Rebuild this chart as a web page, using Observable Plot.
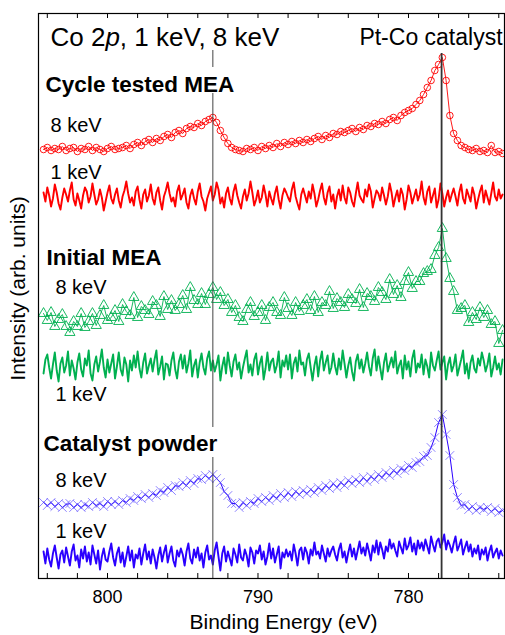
<!DOCTYPE html>
<html><head><meta charset="utf-8">
<script src="https://cdn.jsdelivr.net/npm/d3@7"></script>
<script src="https://cdn.jsdelivr.net/npm/@observablehq/plot@0.6"></script>
<style>body{margin:0;background:#fff}</style>
</head><body><div id="chart"></div>
<script>
// Binding energy grid of the 8 keV spectra (eV)
const energy = [
804.25,804,803.75,803.5,803.25,803,802.75,802.5,802.25,802,
801.75,801.5,801.25,801,800.75,800.5,800.25,800,799.75,799.5,
799.25,799,798.75,798.5,798.25,798,797.75,797.5,797.25,797,
796.75,796.5,796.25,796,795.75,795.5,795.25,795,794.75,794.5,
794.25,794,793.75,793.5,793.25,793,792.75,792.5,792.25,792,
791.75,791.5,791.25,791,790.75,790.5,790.25,790,789.75,789.5,
789.25,789,788.75,788.5,788.25,788,787.75,787.5,787.25,787,
786.75,786.5,786.25,786,785.75,785.5,785.25,785,784.75,784.5,
784.25,784,783.75,783.5,783.25,783,782.75,782.5,782.25,782,
781.75,781.5,781.25,781,780.75,780.5,780.25,780,779.75,779.5,
779.25,779,778.75,778.5,778.25,778,777.75,777.5,777.25,777,
776.75,776.5,776.25,776,775.75,775.5,775.25,775,774.75,774.5,
774.25,774,773.75];

// Binding energy grid of the 1 keV spectra (eV)
const energy1 = [
804.25,804.125,
804,803.875,803.75,803.625,803.5,803.375,803.25,803.125,
803,802.875,802.75,802.625,802.5,802.375,802.25,802.125,
802,801.875,801.75,801.625,801.5,801.375,801.25,801.125,
801,800.875,800.75,800.625,800.5,800.375,800.25,800.125,
800,799.875,799.75,799.625,799.5,799.375,799.25,799.125,
799,798.875,798.75,798.625,798.5,798.375,798.25,798.125,
798,797.875,797.75,797.625,797.5,797.375,797.25,797.125,
797,796.875,796.75,796.625,796.5,796.375,796.25,796.125,
796,795.875,795.75,795.625,795.5,795.375,795.25,795.125,
795,794.875,794.75,794.625,794.5,794.375,794.25,794.125,
794,793.875,793.75,793.625,793.5,793.375,793.25,793.125,
793,792.875,792.75,792.625,792.5,792.375,792.25,792.125,
792,791.875,791.75,791.625,791.5,791.375,791.25,791.125,
791,790.875,790.75,790.625,790.5,790.375,790.25,790.125,
790,789.875,789.75,789.625,789.5,789.375,789.25,789.125,
789,788.875,788.75,788.625,788.5,788.375,788.25,788.125,
788,787.875,787.75,787.625,787.5,787.375,787.25,787.125,
787,786.875,786.75,786.625,786.5,786.375,786.25,786.125,
786,785.875,785.75,785.625,785.5,785.375,785.25,785.125,
785,784.875,784.75,784.625,784.5,784.375,784.25,784.125,
784,783.875,783.75,783.625,783.5,783.375,783.25,783.125,
783,782.875,782.75,782.625,782.5,782.375,782.25,782.125,
782,781.875,781.75,781.625,781.5,781.375,781.25,781.125,
781,780.875,780.75,780.625,780.5,780.375,780.25,780.125,
780,779.875,779.75,779.625,779.5,779.375,779.25,779.125,
779,778.875,778.75,778.625,778.5,778.375,778.25,778.125,
778,777.875,777.75,777.625,777.5,777.375,777.25,777.125,
777,776.875,776.75,776.625,776.5,776.375,776.25,776.125,
776,775.875,775.75,775.625,775.5,775.375,775.25,775.125,
775,774.875,774.75,774.625,774.5,774.375,774.25,774.125,
774,773.875,773.75];

// Cycle tested MEA (offset intensities, arb. units)
const cycle8 = [
429,431,428,430,429,432,428,430,431,427,
430,429,432,428,431,429,427,430,432,429,
430,431,433,430,434,436,433,437,439,436,
440,438,442,444,441,446,448,445,450,452,
451,455,453,457,459,461,456,448,441,435,
431,429,428,427,430,429,431,428,432,430,
433,431,435,432,436,434,437,435,438,436,
439,437,440,442,439,443,441,445,444,447,
446,448,450,447,451,449,453,452,455,454,
457,455,459,461,458,463,466,468,470,474,
478,484,491,498,508,514,521,498,463,445,
438,433,431,429,428,430,427,428,426,433,
426,427,425];
const cycle1 = [
386,377,
391,383,372,380,394,386,375,369,
381,390,384,377,388,396,379,373,
385,378,370,383,391,387,376,382,
395,384,374,379,389,381,368,377,
386,393,380,375,384,390,378,371,
382,388,397,385,376,381,373,387,
392,379,370,384,389,377,383,394,
380,374,386,391,378,369,382,388,
396,385,377,381,372,387,393,379,
384,390,376,370,383,389,380,374,
387,395,382,377,368,380,386,392,
378,384,396,389,375,381,371,385,
391,380,374,387,394,383,376,370,
382,389,378,385,397,386,373,379,
388,376,381,393,384,372,387,380,
374,385,392,379,370,383,390,386,
381,377,389,396,382,375,369,384,
390,383,376,387,380,394,385,372,
379,388,395,381,374,386,392,377,
384,370,382,389,378,393,381,375,
391,386,377,372,385,396,383,379,
376,389,382,394,387,371,380,388,
385,378,391,383,374,382,395,386,
372,381,388,377,390,384,369,379,
393,386,375,382,389,378,384,397,
381,374,387,392,376,383,390,371,
379,395,385,372,381,388,377,384,
390,382,373,386,394,380,375,389,
383,377,391,384,370,379,387,393,
376,388,381,374,385,396,382,378,
389,380,384];

// Initial MEA
const initial8 = [
265,258,266,252,259,264,252,246,257,252,
265,251,257,265,253,263,273,258,261,268,
257,274,267,263,281,261,272,268,264,277,
273,262,282,269,278,268,274,283,269,291,
278,274,285,274,284,291,279,286,273,279,
266,273,261,257,269,276,262,266,273,258,
271,276,266,263,281,270,263,276,267,273,
279,268,282,266,276,273,287,270,280,276,
271,284,279,275,289,271,285,282,277,291,
286,279,299,284,293,281,297,306,290,297,
297,305,307,309,323,331,350,320,300,287,
268,270,273,256,266,259,271,261,268,254,
257,235,248];
const initial1 = [
205,219,
224,211,200,214,226,208,197,215,
221,206,213,227,203,218,210,199,
216,225,209,202,220,213,228,205,
198,214,222,207,217,229,211,201,
219,206,215,224,200,212,226,209,
203,221,214,197,218,208,223,211,
227,210,201,216,225,205,213,220,
207,219,228,204,212,222,199,215,
214,203,218,226,209,200,217,224,
210,223,206,215,228,202,213,219,
201,216,225,211,204,220,227,208,
218,207,214,223,198,212,221,205,
226,213,202,217,224,209,216,200,
211,220,228,206,214,203,219,225,
204,215,222,199,210,226,208,217,
220,206,213,227,201,218,212,223,
209,224,200,215,221,207,228,214,
216,203,219,225,211,198,213,222,
202,218,227,208,216,223,205,211,
225,212,204,220,209,228,215,201,
213,221,207,198,217,224,210,219,
206,215,226,212,203,220,229,208,
222,210,199,216,225,207,214,221,
211,227,205,213,218,200,223,209,
217,202,220,228,206,215,211,224,
204,219,212,201,226,213,208,218,
227,209,216,222,199,214,221,207,
213,224,203,211,219,228,205,215,
200,216,223,210,206,220,213,226,
218,207,214,225,202,211,222,209,
215,204,219];

// Catalyst powder
const powder8 = [
76,73,76,72,75,71,74,75,71,74,
71,74,72,76,73,75,72,77,74,
77,74,78,76,80,78,82,80,
84,81,85,83,88,
86,91,88,93,92,
96,93,98,95,100,99,
103,100,104,100,
96,87,83,75,75,71,
76,73,77,75,80,77,81,78,83,80,85,
81,86,82,87,84,88,85,89,86,91,88,93,90,
95,91,96,93,98,95,99,96,
101,97,102,99,104,101,106,103,
108,105,110,108,113,111,116,
117,122,123,131,141,156,164,
144,123,94,81,73,74,
69,72,68,71,69,71,67,70,66,68];
const powder1 = [
27,15,
30,19,12,25,33,21,10,24,
28,16,31,22,13,27,34,18,
23,11,29,20,32,17,26,14,
33,24,15,28,9,22,30,19,
17,27,35,21,13,25,31,16,
26,12,22,32,18,28,11,24,
20,30,14,25,34,19,27,15,
29,21,10,23,31,17,26,33,
16,25,32,18,12,28,22,30,
24,13,27,35,20,15,29,21,
31,18,25,11,26,33,19,23,
14,28,36,22,8,25,32,17,
27,20,13,30,24,16,34,21,
18,29,23,12,31,26,15,28,
25,33,19,27,14,22,35,20,
30,16,24,32,10,26,21,29,
22,27,18,34,25,13,28,31,
19,31,26,15,29,23,36,24,
27,20,33,25,17,30,22,28,
32,24,18,29,35,21,27,16,
26,34,22,30,19,28,37,25,
31,23,35,27,18,33,26,38,
24,36,29,20,32,27,39,30,
35,28,22,37,31,25,40,29,
33,41,27,35,24,38,30,36,
28,39,32,25,42,34,27,37,
40,31,36,44,29,38,33,26,
35,42,28,33,39,24,31,37,
27,34,22,30,25,33,19,29,
24,31,18,27,33,21,26,30,
20,28,23];

const minorTicks = [804,802,800,798,796,794,792,790,788,786,784,782,780,778,776,774];
const labelTicks = [800,790,780];
const peaks = [793.0, 777.8];

const rows8 = vals => vals.map((v, i) => ({e: energy[i], v}));
const rows1 = vals => vals.map((v, i) => ({e: energy1[i], v}));
const RED = "#ff0000", GREEN = "#00b050", BLUE = "#2a00ff";
const FONT = "'Liberation Sans', Arial, Helvetica, sans-serif";

const leftSegs = [{e: peaks[0], y1: 0, y2: 121}, {e: peaks[0], y1: 151, y2: 485}, {e: peaks[0], y1: 511, y2: 528}];
const rightSegs = [{e: peaks[1], y1: 0, y2: 525}];

const labels = [
  {e: 803.79, v: 541, t: "Co 2p, 1 keV, 8 keV", s: 26, w: "normal", a: "start"},
  {e: 773.75, v: 541, t: "Pt-Co catalyst", s: 23, w: "normal", a: "end"},
  {e: 804.12, v: 494, t: "Cycle tested MEA", s: 22.5, w: "bold", a: "start"},
  {e: 803.79, v: 453, t: "8 keV", s: 20, w: "normal", a: "start"},
  {e: 803.79, v: 406, t: "1 keV", s: 20, w: "normal", a: "start"},
  {e: 804.05, v: 321, t: "Initial MEA", s: 22.5, w: "bold", a: "start"},
  {e: 803.46, v: 291, t: "8 keV", s: 20, w: "normal", a: "start"},
  {e: 803.46, v: 184, t: "1 keV", s: 20, w: "normal", a: "start"},
  {e: 804.25, v: 135, t: "Catalyst powder", s: 22.5, w: "bold", a: "start"},
  {e: 803.46, v: 98, t: "8 keV", s: 20, w: "normal", a: "start"},
  {e: 803.46, v: 47, t: "1 keV", s: 20, w: "normal", a: "start"}
];

const textMarks = labels.map(d => Plot.text([d], {x: "e", y: "v", text: "t", textAnchor: d.a, fontSize: d.s, fontWeight: d.w, fill: "black", lineAnchor: "middle"}));

const chart = Plot.plot({
  width: 505, height: 635,
  marginLeft: 38, marginRight: 1, marginTop: 13, marginBottom: 57,
  style: {fontFamily: FONT, background: "white", overflow: "visible"},
  x: {domain: [804.585, 773.62], axis: null},
  y: {domain: [0, 565], axis: null},
  marks: [
    // 1 keV spectra
    Plot.line(rows1(cycle1), {x: "e", y: "v", stroke: RED, strokeWidth: 1.9}),
    Plot.line(rows1(initial1), {x: "e", y: "v", stroke: GREEN, strokeWidth: 1.9}),
    Plot.line(rows1(powder1), {x: "e", y: "v", stroke: BLUE, strokeWidth: 1.9}),
    // 8 keV spectra
    Plot.line(rows8(cycle8), {x: "e", y: "v", stroke: RED, strokeWidth: 0.9}),
    Plot.dot(rows8(cycle8), {x: "e", y: "v", r: 3.3, stroke: RED, strokeWidth: 0.9, fill: "none", symbol: "circle"}),
    Plot.line(rows8(initial8), {x: "e", y: "v", stroke: GREEN, strokeWidth: 0.9}),
    Plot.dot(rows8(initial8), {x: "e", y: "v", r: 3.8, stroke: GREEN, strokeWidth: 0.9, fill: "none", symbol: "triangle"}),
    Plot.line(rows8(powder8), {x: "e", y: "v", stroke: BLUE, strokeWidth: 1}),
    Plot.dot(rows8(powder8), {x: "e", y: "v", r: 4, stroke: "#5544ff", strokeWidth: 0.9, strokeOpacity: 0.75, symbol: "times"}),
    // peak markers
    Plot.ruleX(leftSegs, {x: "e", y1: "y1", y2: "y2", stroke: "#444", strokeWidth: 1}),
    Plot.ruleX(rightSegs, {x: "e", y1: "y1", y2: "y2", stroke: "#333", strokeWidth: 1.8}),
    // inward ticks
    Plot.ruleX(minorTicks, {x: d => d, y1: 0, y2: 5, stroke: "black", strokeWidth: 1}),
    Plot.ruleX(minorTicks, {x: d => d, y1: 560, y2: 565, stroke: "black", strokeWidth: 1}),
    Plot.frame({stroke: "black", strokeWidth: 1.2}),
    Plot.axisX({ticks: labelTicks, tickSize: 0, tickPadding: 12, fontSize: 18, label: null, tickFormat: d => String(d)}),
    ...textMarks,
    Plot.text(["Binding Energy (eV)"], {x: 788.31, y: -44, text: d => d, fontSize: 21, fill: "black", lineAnchor: "middle"}),
    Plot.text(["Intensity (arb. units)"], {x: 805.93, y: 290, text: d => d, fontSize: 21, fill: "black", rotate: -90, lineAnchor: "middle"})
  ]
});

document.getElementById("chart").appendChild(chart);

// italic "p" in "2p"
chart.querySelectorAll("text").forEach(t => {
  if (t.textContent === "Co 2p, 1 keV, 8 keV") {
    const NS = "http://www.w3.org/2000/svg";
    const target = t.querySelector("tspan") || t;
    target.textContent = "";
    const a = document.createElementNS(NS, "tspan"); a.textContent = "Co 2";
    const b = document.createElementNS(NS, "tspan"); b.textContent = "p"; b.setAttribute("font-style", "italic");
    const c = document.createElementNS(NS, "tspan"); c.textContent = ", 1 keV, 8 keV";
    target.appendChild(a); target.appendChild(b); target.appendChild(c);
  }
});
</script>
</body></html>
